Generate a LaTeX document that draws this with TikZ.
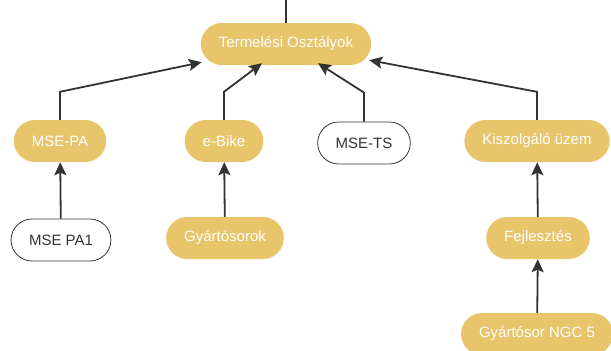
\documentclass[tikz,border=0pt]{standalone}
\usepackage{fontspec}
\setmainfont{Liberation Sans}
\usetikzlibrary{arrows.meta}
\definecolor{gold}{RGB}{232,196,106}
\definecolor{ink}{RGB}{51,51,51}
\tikzset{
    unit/.style={rounded corners=21pt,minimum height=42pt,inner xsep=18pt,
        font=\fontsize{15}{18}\selectfont},
    filled/.style={unit,fill=gold,text=white},
    outlined/.style={unit,draw=ink,line width=0.8pt,fill=white,text=ink},
    directed/.style={draw=ink,line width=1.8pt,arrows={-Stealth[length=13pt,width=12pt,inset=2.5pt]}},
    plain/.style={draw=ink,line width=1.8pt},
    }
\begin{document}
\begin{tikzpicture}[x=1pt,y=1pt]
    \useasboundingbox (0,0) rectangle (611,-351);
    \node[filled] (term) at (286,-44) {Termelési Osztályok};
    \node[filled] (pa) at (60,-141) {MSE-PA};
    \node[filled] (ebike) at (224,-141) {e-Bike};
    \node[outlined] (ts) at (364,-143) {MSE-TS};
    \node[filled] (kisz) at (537,-141) {Kiszolgáló üzem};
    \node[outlined] (pa1) at (61,-240) {MSE PA1};
    \node[filled] (gyart) at (225,-238) {Gyártósorok};
    \node[filled] (fejl) at (538,-238) {Fejlesztés};
    \node[filled] (ngc) at (537,-334) {Gyártósor NGC 5};

    \coordinate (top) at (286,0);
    \coordinate (t1) at ([xshift=1pt,yshift=3pt]term.south west);
    \coordinate (t2) at ([xshift=-24pt,yshift=2pt]term.south);
    \coordinate (t3) at ([xshift=32pt,yshift=2pt]term.south);
    \coordinate (t4) at ([xshift=-2pt,yshift=5pt]term.south east);

    \draw[plain] (top) -- (term.north);
    \draw[directed] (pa.north) -- ++(0,28) -- (t1);
    \draw[directed] (ebike.north) -- ++(0,28) -- (t2);
    \draw[directed] (ts.north) -- ++(0,29) -- (t3);
    \draw[directed] (kisz.north) -- ++(0,28) -- (t4);

    \draw[directed] (pa1) -- (pa);
    \draw[directed] (gyart) -- (ebike);
    \draw[directed] (fejl) -- (kisz);
    \draw[directed] (ngc) -- (fejl);
\end{tikzpicture}
\end{document}
